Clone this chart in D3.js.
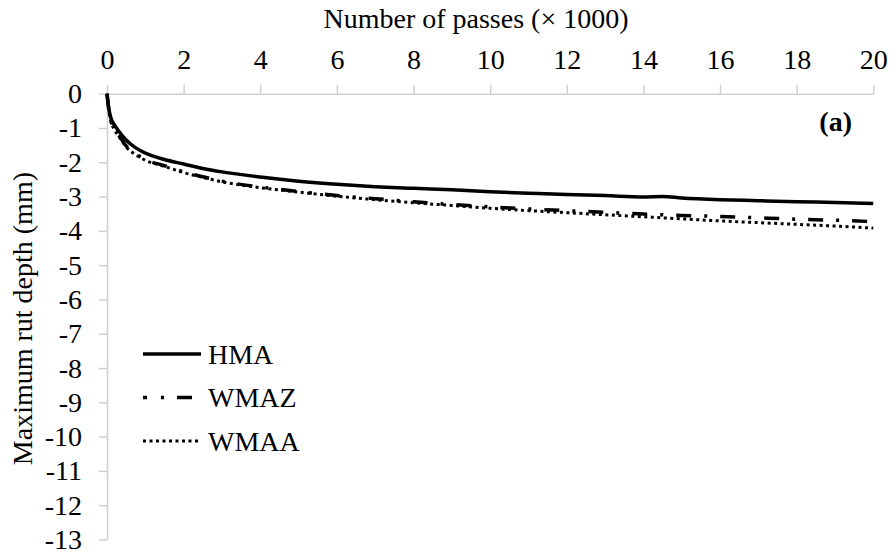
<!DOCTYPE html>
<html>
<head>
<meta charset="utf-8">
<script src="https://cdn.jsdelivr.net/npm/d3@7"></script>
<style>
  html, body { margin: 0; padding: 0; background: #fff; }
  svg { display: block; }
</style>
</head>
<body>
<svg id="chart" width="891" height="554"></svg>
<script>
// ---- Data (passes in thousands, rut depth in mm) ----
const passes = [0, 0.05, 0.1, 0.2, 0.3, 0.5, 0.75, 1, 1.5, 2, 2.5, 3, 4, 5, 6, 7, 8, 9, 10, 11, 12, 13, 14, 14.5, 15, 16, 17, 18, 19, 20];
const hma  = [0, -0.45, -0.70, -0.92, -1.08, -1.35, -1.58, -1.73, -1.92, -2.05, -2.18, -2.28, -2.43, -2.55, -2.64, -2.71, -2.76, -2.80, -2.86, -2.90, -2.94, -2.97, -3.01, -3.00, -3.04, -3.09, -3.12, -3.15, -3.17, -3.20];
const wmaz = [0, -0.50, -0.78, -1.03, -1.20, -1.52, -1.75, -1.92, -2.10, -2.28, -2.42, -2.55, -2.72, -2.85, -2.97, -3.06, -3.15, -3.23, -3.30, -3.36, -3.41, -3.46, -3.51, -3.53, -3.55, -3.58, -3.62, -3.66, -3.69, -3.73];
const wmaa = [0, -0.52, -0.80, -1.06, -1.23, -1.55, -1.78, -1.94, -2.12, -2.30, -2.44, -2.57, -2.74, -2.87, -2.99, -3.09, -3.18, -3.26, -3.34, -3.41, -3.47, -3.53, -3.59, -3.62, -3.65, -3.71, -3.76, -3.81, -3.86, -3.92];
const seriesNames = ["HMA", "WMAZ", "WMAA"];
const xTicks = [0, 2, 4, 6, 8, 10, 12, 14, 16, 18, 20];
const yTicks = [0, -1, -2, -3, -4, -5, -6, -7, -8, -9, -10, -11, -12, -13];
const xTitle = "Number of passes (× 1000)";
const yTitle = "Maximum rut depth (mm)";
const panelLabel = "(a)";

(function () {
const FONT = "Liberation Serif";
const svg = d3.select("#chart");
const mLeft = 107, mRight = 873.3, mTop = 93.7, mBottom = 539.5;
const x = d3.scaleLinear().domain([0, 20]).range([mLeft, mRight]);
const y = d3.scaleLinear().domain([0, -13]).range([mTop, mBottom]);
const axisColor = "#d0d0d0";
const fs = 28;

const gx = svg.append("g").attr("transform", `translate(0,${mTop})`)
  .call(d3.axisTop(x).tickValues(xTicks).tickSize(9).tickSizeOuter(0).tickPadding(16).tickFormat(d => String(d)));
const gy = svg.append("g").attr("transform", `translate(${mLeft},0)`)
  .call(d3.axisLeft(y).tickValues(yTicks).tickSize(8).tickSizeOuter(0).tickPadding(17).tickFormat(d => String(d)));
[gx, gy].forEach(g => {
  g.attr("font-family", FONT).attr("font-size", fs);
  g.select(".domain").attr("stroke", axisColor).attr("stroke-width", 1.5);
  g.selectAll(".tick line").attr("stroke", axisColor).attr("stroke-width", 1.5);
  g.selectAll(".tick text").attr("fill", "#000").attr("font-family", FONT);
});

svg.append("text").attr("x", 476).attr("y", 28).attr("text-anchor", "middle")
  .attr("font-family", FONT).attr("font-size", fs).text(xTitle);
svg.append("text").attr("transform", `translate(32,${(mTop + mBottom) / 2 + 2}) rotate(-90)`)
  .attr("text-anchor", "middle").attr("font-family", FONT).attr("font-size", fs).text(yTitle);
svg.append("text").attr("x", 852).attr("y", 131).attr("text-anchor", "end")
  .attr("font-family", FONT).attr("font-size", fs).attr("font-weight", "bold").text(panelLabel);

const styles = [
  { dash: null, width: 3.5 },
  { dash: "15 13 3 13", width: 3.5 },
  { dash: "3 3.5", width: 3 }
];
const values = [hma, wmaz, wmaa];
const line = d3.line().x((d, i) => x(passes[i])).y(d => y(d)).curve(d3.curveMonotoneX);
[2, 1, 0].forEach(k => {
  svg.append("path").datum(values[k])
    .attr("d", line)
    .attr("fill", "none")
    .attr("stroke", "#000")
    .attr("stroke-width", styles[k].width)
    .attr("stroke-dasharray", styles[k].dash);
});

const legY = [354, 397.5, 441];
seriesNames.forEach((name, k) => {
  svg.append("line").attr("x1", 143).attr("x2", 201).attr("y1", legY[k]).attr("y2", legY[k])
    .attr("stroke", "#000").attr("stroke-width", styles[k].width)
    .attr("stroke-dasharray", k === 1 ? "4 14 3 13 15 13" : styles[k].dash);
  svg.append("text").attr("x", 208).attr("y", legY[k]).attr("dy", "0.35em")
    .attr("font-family", FONT).attr("font-size", fs).text(name);
});
})();
</script>
</body>
</html>
